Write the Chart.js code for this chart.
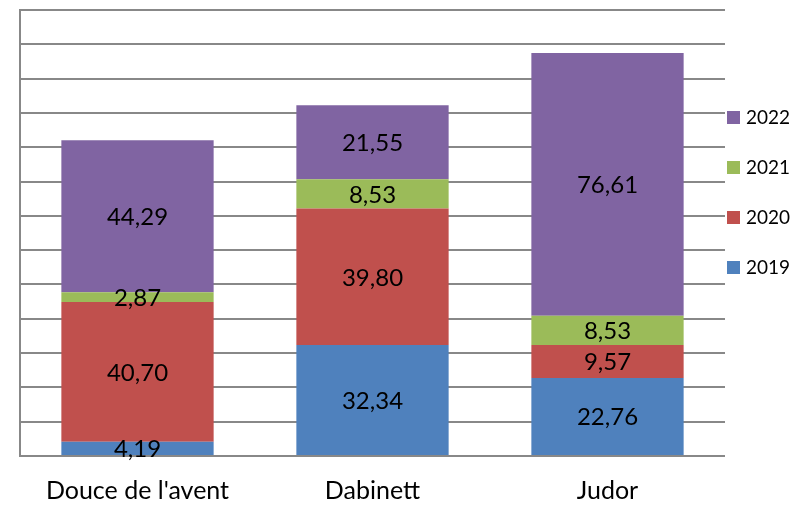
<!DOCTYPE html>
<html>
<head>
<meta charset="utf-8">
<script src="https://cdn.jsdelivr.net/npm/chart.js@4"></script>
<style>
  html, body { margin: 0; padding: 0; background: #fff; }
  #wrap { width: 794px; height: 505px; }
</style>
</head>
<body>
<div id="wrap"><canvas id="chart" width="794" height="505"></canvas></div>
<script>
/* ─── Data ───────────────────────────────────────────────── */
const categories = ['Douce de l\'avent', 'Dabinett', 'Judor'];
const seriesNames = ['2019', '2020', '2021', '2022'];
const values2019 = [4.19, 32.34, 22.76];
const values2020 = [40.70, 39.80, 9.57];
const values2021 = [2.87, 8.53, 8.53];
const values2022 = [44.29, 21.55, 76.61];
const yMax = 130;
const yStep = 10;

const colors = ['#4F81BD', '#C0504D', '#9BBB59', '#8064A2'];
const FONT = 'Lato, "Open Sans", sans-serif';

/* ─── Value labels inside each segment ───────────────────── */
const valueLabels = {
  id: 'valueLabels',
  afterDatasetsDraw(chart) {
    const { ctx } = chart;
    ctx.save();
    ctx.font = '24px ' + FONT;
    ctx.fillStyle = '#000';
    ctx.textAlign = 'center';
    ctx.textBaseline = 'middle';
    chart.data.datasets.forEach((ds, i) => {
      chart.getDatasetMeta(i).data.forEach((bar, j) => {
        const mid = (bar.y + bar.base) / 2;
        ctx.fillText(ds.data[j].toFixed(2).replace('.', ','), bar.x, mid + 1);
      });
    });
    ctx.restore();
  }
};

/* ─── Legend on the right, newest year on top ────────────── */
const sideLegend = {
  id: 'sideLegend',
  afterDraw(chart) {
    const { ctx } = chart;
    const x = chart.chartArea.right + 2;
    const y0 = 117, gap = 50;
    ctx.save();
    ctx.font = '19px ' + FONT;
    ctx.textBaseline = 'middle';
    const sets = chart.data.datasets.slice().reverse();
    sets.forEach((ds, k) => {
      const y = y0 + k * gap;
      ctx.fillStyle = ds.backgroundColor;
      ctx.fillRect(x, y - 6, 13, 13);
      ctx.fillStyle = '#000';
      ctx.fillText(ds.label, x + 19, y + 1);
    });
    ctx.restore();
  }
};

const seriesData = [values2019, values2020, values2021, values2022];

new Chart(document.getElementById('chart'), {
  type: 'bar',
  data: {
    labels: categories,
    datasets: seriesNames.map((name, i) => ({
      label: name,
      data: seriesData[i],
      backgroundColor: colors[i],
      borderWidth: 0,
      categoryPercentage: 1,
      barPercentage: 0.648
    }))
  },
  options: {
    responsive: false,
    animation: false,
    devicePixelRatio: 1,
    layout: { padding: { left: 20, right: 69, top: 10, bottom: 3 } },
    plugins: {
      legend: { display: false },
      tooltip: { enabled: false }
    },
    scales: {
      x: {
        stacked: true,
        grid: { display: false, drawTicks: false },
        border: { display: false },
        ticks: { color: '#000', font: { family: FONT, size: 25 }, padding: 20 },
        afterFit(scale) { scale.height = 46; }
      },
      y: {
        stacked: true,
        min: 0,
        max: yMax,
        ticks: { display: false, stepSize: yStep },
        grid: { color: '#888', lineWidth: 2, drawTicks: false },
        border: { display: true, color: '#888', width: 2 }
      }
    }
  },
  plugins: [valueLabels, sideLegend]
});
</script>
</body>
</html>
